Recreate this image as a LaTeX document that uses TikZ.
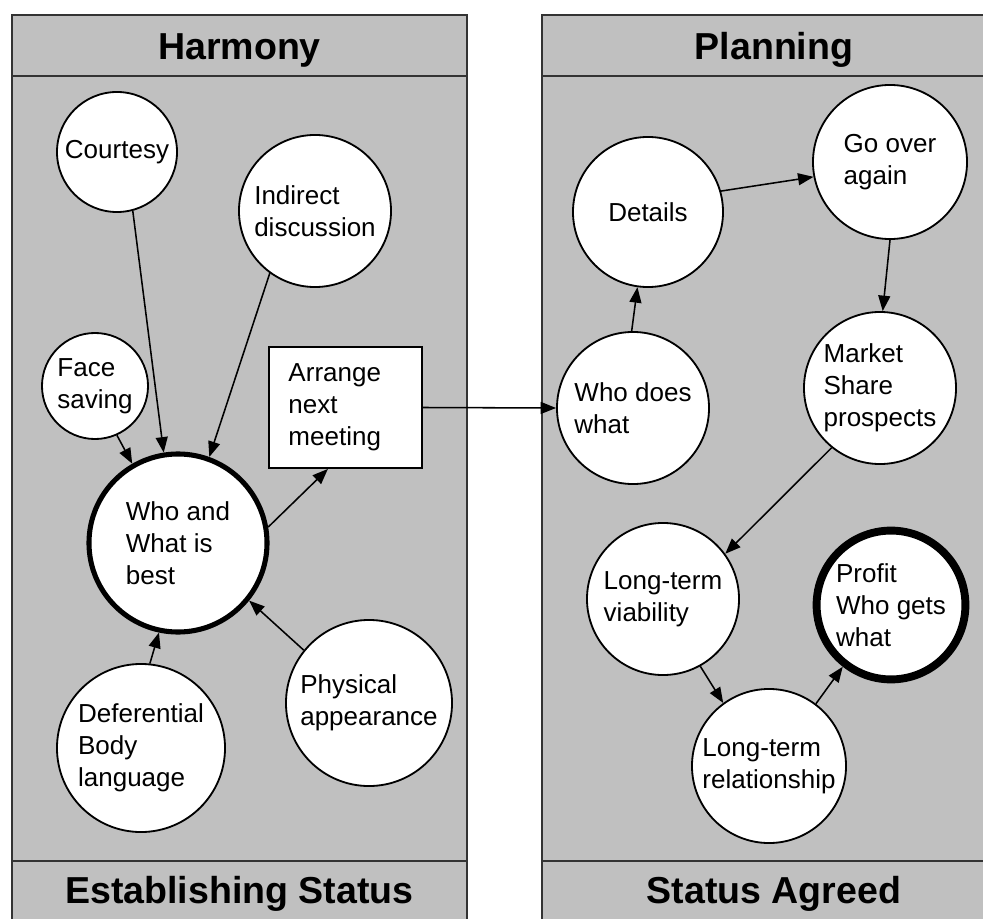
\documentclass[tikz,border=0pt]{standalone}
\usepackage{fontspec}
\setmainfont{Liberation Sans}
\usetikzlibrary{arrows.meta}
\definecolor{panelgray}{gray}{0.753}
\definecolor{edgegray}{gray}{0.2}

\begin{document}
\begin{tikzpicture}[x=0.025cm, y=-0.025cm,
    every node/.style={font=\fontsize{18.5}{22.8}\selectfont},
    bubble/.style={circle, draw, line width=1.3pt, fill=white, inner sep=0pt, align=left},
    keybubble/.style={bubble, line width=3.6pt},
    link/.style={-{Triangle[length=11pt,width=8.5pt]}, line width=1.1pt},
    headtext/.style={font=\fontsize{26.7}{30}\selectfont\bfseries, anchor=base},
    panelline/.style={draw=edgegray, line width=1.3pt}]
    % page 983x918 px, one unit = one px
    \useasboundingbox (0,0) rectangle (983,918);
    \clip (0,0) rectangle (983,918);
    \fill[white] (0,0) rectangle (983,918);
    % panel template: left, right, name, header, footer
    \newcommand{\stagepanel}[5]{
      \draw[panelline, fill=panelgray] (#1,15) rectangle (#2,940);
      \draw[panelline] (#1,76) -- (#2,76);
      \draw[panelline] (#1,861) -- (#2,861);
      \node[headtext] (#3-head) at ({(#1+#2)/2},60) {#4};
      \node[headtext] (#3-foot) at ({(#1+#2)/2},903) {#5};
    }
    \stagepanel{12}{467}{harmony}{Harmony}{Establishing Status}
    \stagepanel{542}{1006}{planning}{Planning}{Status Agreed}
    % Harmony side
    \node[bubble, minimum size=3.0cm] (courtesy) at (117,152) {Courtesy};
    \node[bubble, minimum size=3.8cm] (indirect) at (315,211) {Indirect\\discussion};
    \node[bubble, minimum size=2.65cm] (face) at (95,386) {Face\\saving};
    \node[keybubble, minimum size=4.45cm] (best) at (178,543) {Who and\\What is\\best};
    \node[draw, line width=1.3pt, fill=white, inner sep=0pt, minimum width=3.825cm,
      minimum height=3.025cm, text width=2.85cm, align=left] (arrange) at (345.5,407.5)
      {Arrange\\next\\meeting};
    \node[bubble, minimum size=4.2cm] (deferential) at (141,748) {Deferential\\Body\\language};
    \node[bubble, minimum size=4.15cm] (physical) at (369,703) {Physical\\appearance};
    % Planning side
    \node[bubble, minimum size=3.8cm] (whodoes) at (633,408) {Who does\\what};
    \node[bubble, minimum size=3.75cm] (details) at (648,212) {Details};
    \node[bubble, minimum size=3.85cm] (goover) at (890,162) {Go over\\again};
    \node[bubble, minimum size=3.8cm] (market) at (880,388) {Market\\Share\\prospects};
    \node[bubble, minimum size=3.8cm] (viability) at (663,599) {Long-term\\viability};
    \node[bubble, minimum size=3.85cm] (relation) at (769,766) {Long-term\\relationship};
    \node[bubble, line width=5.6pt, minimum size=3.72cm] (profit) at (891,605) {Profit\\Who gets\\what};
    % links
    \draw[link] (courtesy.-75) -- (best.99);
    \draw[link] (indirect.-126) -- (best.70);
    \draw[link] (face.-66) -- (best.120);
    \draw[link] (deferential.84) -- (best.-102);
    \draw[link] (physical.141) -- (best.-39);
    \draw[link] (best.10) -- (arrange.-106);
    \draw[link] (arrange.east) -- (whodoes.west);
    \draw[link] (whodoes.91) -- (details.-98);
    \draw[link] (details.16) -- (goover.-169);
    \draw[link] (goover.-90) -- (market.88);
    \draw[link] (market.-129) -- (viability.36);
    \draw[link] (viability.-61) -- (relation.126);
    \draw[link] (relation.53) -- (profit.-128);
\end{tikzpicture}
\end{document}
